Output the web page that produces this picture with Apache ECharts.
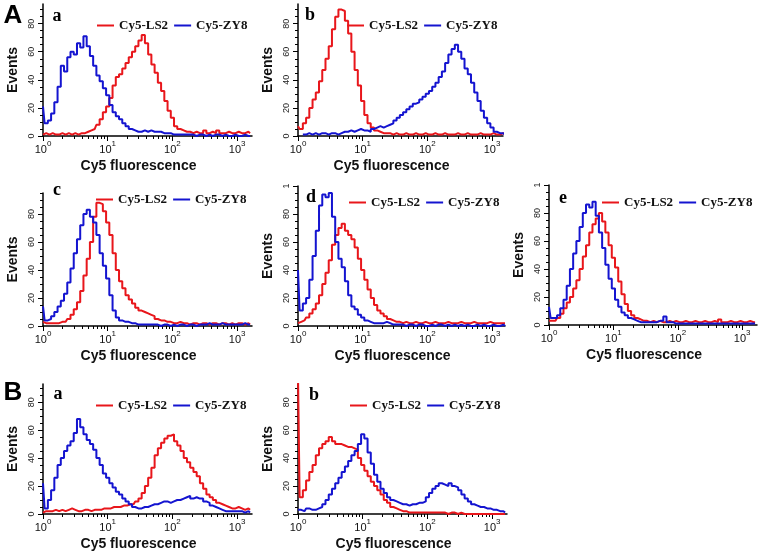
<!DOCTYPE html>
<html>
<head>
<meta charset="utf-8">
<script src="https://cdn.jsdelivr.net/npm/echarts@6/dist/echarts.min.js"></script>
<style>
  html, body { margin: 0; padding: 0; background: #fff; }
  #chart { width: 764px; height: 558px; }
</style>
</head>
<body>
<div id="chart"></div>
<script>
// log10 of fluorescence for each histogram channel
const channels = [
  0.00, 0.05, 0.10, 0.15, 0.20, 0.25, 0.30, 0.35, 0.40, 0.45,
  0.50, 0.55, 0.60, 0.65, 0.70, 0.75, 0.80, 0.85, 0.90, 0.95,
  1.00, 1.05, 1.10, 1.15, 1.20, 1.25, 1.30, 1.35, 1.40, 1.45,
  1.50, 1.55, 1.60, 1.65, 1.70, 1.75, 1.80, 1.85, 1.90, 1.95,
  2.00, 2.05, 2.10, 2.15, 2.20, 2.25, 2.30, 2.35, 2.40, 2.45,
  2.50, 2.55, 2.60, 2.65, 2.70, 2.75, 2.80, 2.85, 2.90, 2.95,
  3.00, 3.05, 3.10, 3.15, 3.20
];
const decadeTicks = [0, 1, 2, 3];
const seriesNames = ['Cy5-LS2', 'Cy5-ZY8'];

// panel A-a
const Aa_LS2 = [
  1, 2, 1, 2, 1, 1, 2, 1, 2, 1,
  2, 1, 2, 2, 3, 4, 5, 8, 12, 17,
  21, 27, 36, 42, 44, 48, 52, 56, 60, 64,
  68, 72, 66, 58, 51, 45, 38, 32, 25, 18,
  13, 7, 5, 4, 3, 3, 2, 3, 2, 2,
  4, 2, 3, 2, 4, 2, 2, 3, 2, 2,
  3, 2, 2, 3, 2
];
const Aa_ZY8 = [
  21, 9, 11, 16, 24, 35, 50, 46, 56, 60,
  58, 66, 63, 71, 64, 57, 50, 43, 39, 34,
  29, 22, 17, 14, 12, 9, 7, 5, 4, 3,
  3, 4, 3, 4, 3, 3, 3, 2, 2, 2,
  1, 1, 1, 1, 1, 1, 1, 0, 1, 1,
  0, 1, 0, 1, 1, 0, 1, 0, 0, 1,
  0, 0, 1, 0, 0
];
// panel A-b
const Ab_LS2 = [
  7, 5, 9, 13, 20, 26, 31, 39, 47, 55,
  64, 76, 85, 90, 89, 82, 73, 60, 47, 36,
  25, 15, 9, 6, 4, 3, 2, 2, 2, 1,
  2, 1, 1, 2, 1, 1, 2, 1, 1, 2,
  1, 1, 2, 1, 1, 2, 1, 1, 1, 2,
  1, 1, 2, 1, 1, 1, 2, 1, 1, 1,
  2, 1, 1, 2, 1
];
const Ab_ZY8 = [
  null, null, 1, 2, 1, 2, 1, 2, 2, 1,
  2, 2, 1, 2, 3, 3, 4, 3, 4, 5,
  4, 4, 3, 5, 6, 7, 6, 7, 8, 9,
  11, 13, 15, 17, 19, 21, 23, 24, 26, 28,
  30, 32, 35, 38, 42, 46, 52, 58, 62, 65,
  60, 55, 48, 44, 38, 31, 25, 18, 13, 9,
  6, 3, 2, 2, 1
];
// panel A-c
const Ac_LS2 = [
  3, 2, 2, 2, 2, 2, 3, 3, 5, 8,
  12, 17, 25, 36, 48, 60, 78, 88, 87, 82,
  74, 65, 52, 40, 32, 27, 22, 19, 16, 13,
  11, 10, 9, 8, 7, 5, 4, 4, 3, 3,
  2, 2, 3, 2, 2, 1, 2, 2, 1, 2,
  2, 1, 2, 2, 1, 2, 2, 1, 2, 1,
  2, 2, 1, 2, 1
];
const Ac_ZY8 = [
  14, 4, 5, 7, 10, 14, 18, 23, 31, 41,
  52, 62, 72, 80, 83, 78, 74, 65, 52, 43,
  34, 22, 11, 6, 4, 3, 3, 2, 2, 1,
  1, 1, 1, 1, 1, 1, 0, 1, 1, 0,
  1, 0, 1, 1, 0, 1, 1, 0, 1, 1,
  1, 2, 1, 1, 1, 2, 1, 1, 1, 1,
  1, 1, 2, 1, 1
];
// panel A-d
const Ad_LS2 = [
  2, 3, 4, 6, 9, 12, 16, 22, 30, 38,
  47, 58, 65, 70, 73, 68, 65, 62, 56, 48,
  40, 33, 26, 20, 15, 11, 9, 7, 5, 4,
  3, 3, 2, 3, 2, 2, 3, 2, 2, 3,
  2, 2, 3, 2, 2, 2, 3, 2, 2, 2,
  3, 2, 2, 2, 3, 2, 2, 2, 2, 3,
  2, 2, 2, 2, 2
];
const Ad_ZY8 = [
  40, 11, 16, 20, 33, 50, 68, 86, 94, 92,
  95, 78, 60, 48, 42, 32, 22, 14, 12, 8,
  6, 4, 3, 2, 2, 2, 2, 3, 2, 1,
  1, 1, 1, 0, 1, 1, 0, 1, 1, 0,
  0, 1, 0, 1, 1, 0, 1, 0, 1, 0,
  1, 0, 1, 0, 0, 1, 0, 1, 0, 0,
  1, 0, 0, 1, 0
];
// panel A-e
const Ae_LS2 = [
  3, 3, 3, 5, 8, 12, 16, 20, 26, 32,
  40, 49, 57, 66, 72, 76, 80, 74, 66, 57,
  48, 41, 31, 22, 15, 10, 7, 5, 4, 3,
  3, 2, 3, 2, 3, 2, 2, 3, 2, 3,
  2, 2, 3, 2, 2, 3, 2, 2, 3, 2,
  2, 3, 2, 4, 2, 2, 3, 2, 2, 3,
  2, 2, 3, 2, 2
];
const Ae_ZY8 = [
  13, 5, 5, 7, 12, 18, 28, 40, 51, 60,
  70, 80, 86, 84, 88, 78, 66, 55, 43, 33,
  26, 18, 13, 9, 7, 5, 4, 3, 2, 2,
  2, 2, 2, 2, 3, 3, 6, 2, 2, 1,
  1, 1, 1, 1, 1, 1, 1, 1, 1, 1,
  1, 1, 1, 1, 1, 1, 1, 1, 1, 1,
  1, 1, 1, 1, 1
];
// panel B-a
const Ba_LS2 = [
  1, 2, 2, 2, 3, 2, 3, 2, 3, 4,
  3, 2, 2, 3, 3, 2, 3, 3, 3, 4,
  4, 4, 5, 5, 5, 6, 6, 7, 7, 9,
  11, 15, 20, 26, 33, 42, 47, 51, 54, 56,
  57, 52, 49, 45, 40, 37, 33, 30, 27, 22,
  18, 14, 12, 10, 8, 7, 6, 5, 4, 4,
  5, 4, 3, 4, 3
];
const Ba_ZY8 = [
  22, 4, 10, 17, 26, 35, 40, 45, 49, 52,
  58, 68, 62, 57, 53, 50, 46, 40, 35, 29,
  26, 22, 19, 16, 14, 11, 9, 7, 5, 4,
  4, 5, 5, 6, 7, 7, 8, 9, 9, 8,
  9, 10, 10, 11, 12, 13, 11, 12, 11, 11,
  9, 8, 6, 5, 4, 3, 2, 2, 2, 2,
  2, 2, 1, 2, 1
];
// panel B-b
const Bb_LS2 = [
  100, 12, 17, 24, 30, 35, 42, 47, 50, 52,
  55, 52, 50, 50, 49, 48, 48, 47, 46, 40,
  35, 31, 27, 23, 20, 17, 14, 10, 8, 5,
  4, 3, 2, 2, 1, 1, 1, 1, 1, 1,
  1, 1, 1, 1, 1, 1, 0, 1, 1, 0,
  1, 0, 0, 0, 0, 0, 0, 0, 0, 0,
  0, 0, 0, 0, 0
];
const Bb_ZY8 = [
  3, 3, 2, 4, 3, 3, 4, 5, 7, 10,
  14, 18, 22, 26, 30, 34, 38, 42, 45, 50,
  57, 54, 44, 36, 28, 23, 18, 15, 12, 10,
  9, 8, 7, 7, 6, 7, 7, 8, 8, 9,
  12, 15, 18, 20, 22, 21, 20, 22, 20, 19,
  17, 14, 11, 9, 7, 6, 5, 5, 4, 4,
  3, 3, 2, 2, 1
];

const RED = '#e8161b';
const BLUE = '#1414d0';

const panels = [
  { letter: 'a', ls2: Aa_LS2, zy8: Aa_ZY8, left: 43, top: 4, width: 209, height: 132, ymax: 94, xmax: 3.23, legend: [92, 14], lx: 57, ly: 16 },
  { letter: 'b', ls2: Ab_LS2, zy8: Ab_ZY8, left: 298, top: 4, width: 205, height: 132, ymax: 94, xmax: 3.17, legend: [342, 14], lx: 310, ly: 15 },
  { letter: 'c', ls2: Ac_LS2, zy8: Ac_ZY8, left: 43, top: 193, width: 209, height: 133, ymax: 95, xmax: 3.23, legend: [91, 188], lx: 57, ly: 190 },
  { letter: 'd', ls2: Ad_LS2, zy8: Ad_ZY8, left: 298, top: 186, width: 207, height: 140, ymax: 100, xmax: 3.2, legend: [344, 191], lx: 311, ly: 197 },
  { letter: 'e', ls2: Ae_LS2, zy8: Ae_ZY8, left: 549, top: 185, width: 208, height: 140, ymax: 100, xmax: 3.23, legend: [597, 191], lx: 563, ly: 198 },
  { letter: 'a', ls2: Ba_LS2, zy8: Ba_ZY8, left: 43, top: 384, width: 209, height: 130, ymax: 93, xmax: 3.23, legend: [91, 394], lx: 58, ly: 394 },
  { letter: 'b', ls2: Bb_LS2, zy8: Bb_ZY8, left: 298, top: 384, width: 209, height: 130, ymax: 93, xmax: 3.23, legend: [345, 394], lx: 314, ly: 395 }
];

const chart = echarts.init(document.getElementById('chart'));

const grid = [], xAxis = [], yAxis = [], legend = [], series = [], graphic = [];

panels.forEach((p, i) => {
  grid.push({ left: p.left, top: p.top, width: p.width, height: p.height });

  const minorX = [];
  for (let n = 0; n <= 3; n++) {
    for (let k = 2; k <= 9; k++) {
      const v = n + Math.log10(k);
      if (v <= p.xmax) minorX.push(v);
    }
  }
  const majorY = [], minorY = [];
  for (let v = 0; v <= p.ymax; v += 5) {
    if (v % 20 === 0) majorY.push(v); else minorY.push(v);
  }

  xAxis.push({
    type: 'value', gridIndex: i, position: 'bottom', min: 0, max: p.xmax,
    splitLine: { show: false },
    axisLine: { lineStyle: { color: '#000', width: 1.5 } },
    axisTick: { length: 5, customValues: decadeTicks, lineStyle: { color: '#000' } },
    axisLabel: {
      customValues: decadeTicks, margin: 4, color: '#111',
      formatter: v => '{b|10}{s|' + v + '}',
      rich: {
        b: { fontSize: 11, fontFamily: 'Liberation Sans', lineHeight: 15, verticalAlign: 'bottom', color: '#111' },
        s: { fontSize: 8, fontFamily: 'Liberation Sans', lineHeight: 15, verticalAlign: 'top', color: '#111' }
      }
    },
    name: 'Cy5 fluorescence', nameLocation: 'middle', nameGap: 23,
    nameTextStyle: { fontFamily: 'Liberation Sans', fontWeight: 'bold', fontSize: 14, color: '#111', padding: [0, 18, 0, 0] }
  });
  xAxis.push({
    type: 'value', gridIndex: i, position: 'bottom', min: 0, max: p.xmax,
    splitLine: { show: false }, axisLine: { show: false }, axisLabel: { show: false },
    axisTick: { length: 3, customValues: minorX, lineStyle: { color: '#000' } }
  });

  yAxis.push({
    type: 'value', gridIndex: i, position: 'left', min: 0, max: p.ymax,
    splitLine: { show: false },
    axisLine: { lineStyle: { color: '#000', width: 1.5 } },
    axisTick: { length: 5, customValues: majorY, lineStyle: { color: '#000' } },
    axisLabel: {
      customValues: majorY, rotate: 90, margin: 7, fontSize: 9, fontFamily: 'Liberation Sans', color: '#222',
      formatter: v => (v === 100 ? '1' : String(v))
    },
    name: 'Events', nameLocation: 'middle', nameGap: 23, nameRotate: 90,
    nameTextStyle: { fontFamily: 'Liberation Sans', fontWeight: 'bold', fontSize: 14, color: '#111' }
  });
  yAxis.push({
    type: 'value', gridIndex: i, position: 'left', min: 0, max: p.ymax,
    splitLine: { show: false }, axisLine: { show: false }, axisLabel: { show: false },
    axisTick: { length: 3, customValues: minorY, lineStyle: { color: '#000' } }
  });

  legend.push({
    left: p.legend[0], top: p.legend[1], data: seriesNames, icon: 'rect',
    itemWidth: 17, itemHeight: 2, itemGap: 6, selectedMode: false,
    textStyle: { fontFamily: 'Liberation Serif', fontWeight: 'bold', fontSize: 13, color: '#111' }
  });

  [[p.ls2, RED, seriesNames[0]], [p.zy8, BLUE, seriesNames[1]]].forEach(([vals, color, name]) => {
    series.push({
      type: 'line', name, xAxisIndex: 2 * i, yAxisIndex: 2 * i,
      step: 'middle', showSymbol: false, symbol: 'none', clip: true,
      lineStyle: { color, width: 2 }, itemStyle: { color },
      data: channels.map((c, j) => [c, vals[j]])
    });
  });

  graphic.push({
    type: 'text', x: p.lx, y: p.ly,
    style: { text: p.letter, fontFamily: 'Liberation Serif', fontWeight: 'bold', fontSize: 18, fill: '#000', align: 'center', verticalAlign: 'middle' }
  });
});

graphic.push(
  { type: 'text', x: 13, y: 16, style: { text: 'A', fontFamily: 'Liberation Sans', fontWeight: 'bold', fontSize: 26, fill: '#000', align: 'center', verticalAlign: 'middle' } },
  { type: 'text', x: 13, y: 393, style: { text: 'B', fontFamily: 'Liberation Sans', fontWeight: 'bold', fontSize: 26, fill: '#000', align: 'center', verticalAlign: 'middle' } }
);

chart.setOption({
  animation: false,
  backgroundColor: '#fff',
  grid, xAxis, yAxis, legend, series, graphic
});
</script>
</body>
</html>
